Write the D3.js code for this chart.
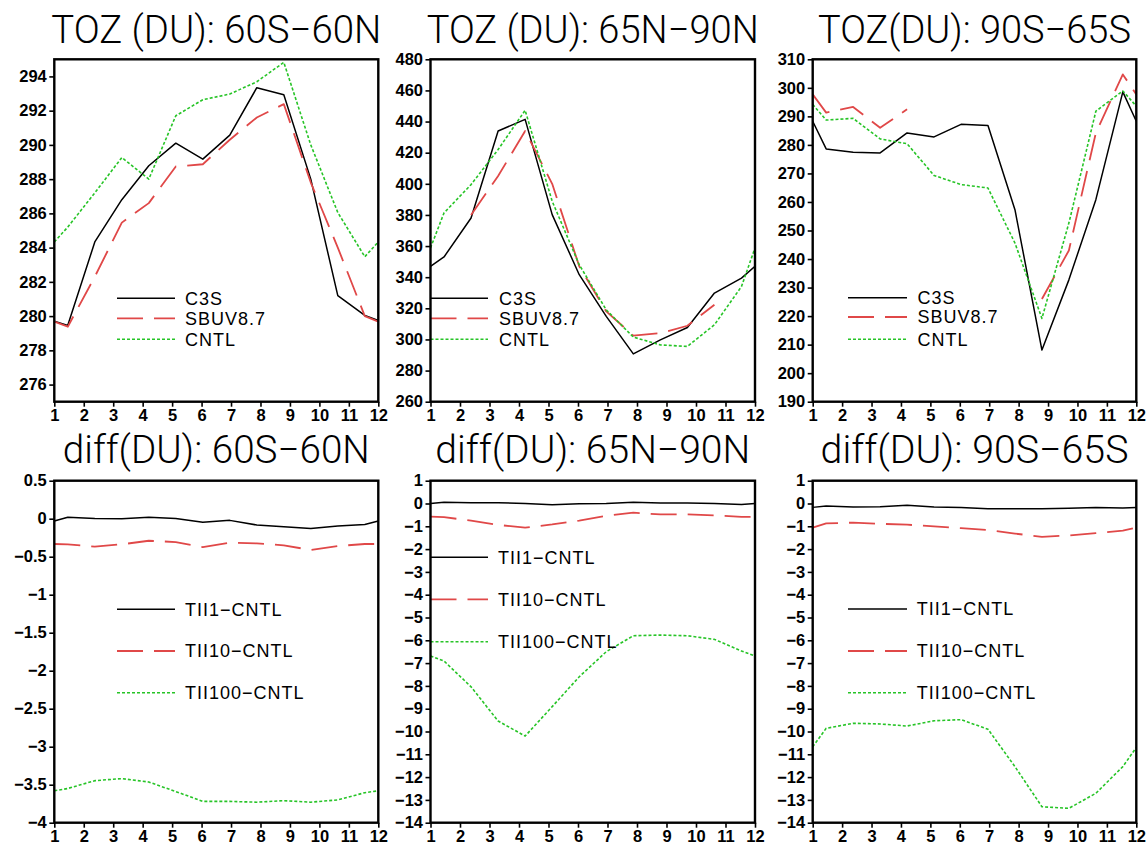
<!DOCTYPE html>
<html>
<head>
<meta charset="utf-8">
<script src="https://cdn.jsdelivr.net/npm/d3@7"></script>
<style>
  html, body { margin: 0; padding: 0; background: #fff; }
  svg { display: block; }
</style>
</head>
<body>
<svg id="chart" width="1146" height="844"></svg>
<script>
// ---------------- DATA ----------------
// x positions (month axis 1..12); first/last are the wrap-around edge values
const monthX = [1, 1.458, 2.375, 3.292, 4.208, 5.125, 6.042, 6.958, 7.875, 8.792, 9.708, 10.625, 11.542, 12];
const xTickValues = [1, 2, 3, 4, 5, 6, 7, 8, 9, 10, 11, 12];

const topLabels = ["C3S", "SBUV8.7", "CNTL"];
const diffLabels = ["TII1\u2212CNTL", "TII10\u2212CNTL", "TII100\u2212CNTL"];

const titles = [
  "TOZ (DU): 60S\u221260N", "TOZ (DU): 65N\u221290N", "TOZ(DU): 90S\u221265S",
  "diff(DU): 60S\u221260N", "diff(DU): 65N\u221290N", "diff(DU): 90S\u221265S"
];

// TOZ 60S-60N
const toz6060C3S  = [279.7, 279.46, 284.33, 286.8, 288.78, 290.1, 289.17, 290.57, 293.34, 292.93, 288.0, 281.2, 280.04, 279.75];
const toz6060SBUV = [279.68, 279.38, 282.3, 285.46, 286.6, 288.74, 288.87, 290.3, 291.6, 292.38, 287.8, 284.0, 280.0, 279.68];
const toz6060CNTL = [284.33, 285.2, 287.2, 289.26, 288.0, 291.7, 292.64, 292.97, 293.69, 294.82, 290.0, 286.05, 283.47, 284.33];
// TOZ 65N-90N
const toz6590C3S  = [347, 353, 378, 433.9, 441.4, 380.2, 341.6, 314.8, 290.7, 299.7, 307.7, 329.8, 339.4, 347];
const toz6590SBUV = [null, null, 380, 405, 433.9, 400, 347, 318, 302.5, 304, 308.8, 322.3, null, null];
const toz6590CNTL = [358.8, 381.3, 399.5, 422, 447.2, 388.8, 348, 319, 301.5, 296.5, 295.5, 309.4, 334, 358.8];
// TOZ 90S-65S
const toz9065C3S  = [288.3, 278.6, 277.4, 277.2, 284.2, 282.8, 287.2, 286.8, 257.3, 208.1, 232.7, 260.8, 298.6, 288.3];
const toz9065SBUV = [297.7, 291.3, 293.3, 286, 292.5, null, null, null, null, 226, 243, 284.2, 304.7, 297.7];
const toz9065CNTL = [294.2, 288.7, 289.3, 282.1, 280.4, 269.3, 266.1, 264.9, 245.6, 219.2, 252.6, 291.8, 298.9, 293.6];
// diff 60S-60N
const diff6060T1   = [-0.03, 0.018, 0.004, 0.0, 0.018, 0.004, -0.048, -0.022, -0.083, -0.105, -0.13, -0.096, -0.075, -0.03];
const diff6060T10  = [-0.333, -0.337, -0.368, -0.337, -0.29, -0.307, -0.373, -0.316, -0.325, -0.35, -0.412, -0.36, -0.333, -0.333];
const diff6060T100 = [-3.58, -3.55, -3.447, -3.42, -3.465, -3.59, -3.72, -3.72, -3.73, -3.71, -3.73, -3.70, -3.605, -3.58];
// diff 65N-90N
const diff6590T1   = [0, 0.06, 0.035, 0.035, 0, -0.05, -0.01, 0, 0.05, 0.02, 0.02, 0, -0.04, 0];
const diff6590T10  = [-0.58, -0.6, -0.75, -0.94, -1.06, -0.92, -0.75, -0.54, -0.40, -0.48, -0.48, -0.52, -0.59, -0.58];
const diff6590T100 = [-6.69, -6.91, -8.04, -9.54, -10.2, -8.91, -7.6, -6.5, -5.8, -5.77, -5.8, -5.96, -6.47, -6.69];
// diff 90S-65S
const diff9065T1   = [-0.17, -0.11, -0.155, -0.14, -0.08, -0.155, -0.18, -0.23, -0.23, -0.23, -0.21, -0.18, -0.2, -0.17];
const diff9065T10  = [-1.06, -0.87, -0.84, -0.89, -0.93, -1.0, -1.08, -1.16, -1.32, -1.46, -1.4, -1.3, -1.19, -1.06];
const diff9065T100 = [-10.67, -9.86, -9.64, -9.67, -9.76, -9.53, -9.48, -9.9, -11.54, -13.3, -13.37, -12.71, -11.54, -10.7];

// y axis tick values
const yTicks6060 = [276, 278, 280, 282, 284, 286, 288, 290, 292, 294];
const yTicks6590 = [260, 280, 300, 320, 340, 360, 380, 400, 420, 440, 460, 480];
const yTicks9065 = [190, 200, 210, 220, 230, 240, 250, 260, 270, 280, 290, 300, 310];
const yTicksD6060 = [-4, -3.5, -3, -2.5, -2, -1.5, -1, -0.5, 0, 0.5];
const yTicksD14 = [-14, -13, -12, -11, -10, -9, -8, -7, -6, -5, -4, -3, -2, -1, 0, 1];

// ---------------- LAYOUT / STYLE ----------------
const cols = [[54.3, 378.3], [430.5, 755], [812.7, 1136.3]];
const rows = [[59.3, 401.7], [480.7, 822.7]];
const titleBase = [42.7, 463];
const titleWidths = [330, 332, 313, 307, 315, 308];

const styles = [
  { color: "#000000", width: 1.5, dash: null },
  { color: "#e04848", width: 1.8, dash: "26,11" },
  { color: "#27c427", width: 1.6, dash: "3,2" }
];

const panels = [
  { series: [toz6060C3S, toz6060SBUV, toz6060CNTL], domain: [275, 295], ticks: yTicks6060, labels: topLabels,
    legend: { x0: 117, x1: 175, tx: 185, ys: [298.3, 318.3, 339.3] } },
  { series: [toz6590C3S, toz6590SBUV, toz6590CNTL], domain: [260, 480], ticks: yTicks6590, labels: topLabels,
    legend: { x0: 430.5, x1: 488, tx: 499, ys: [298.3, 318.3, 339.3] } },
  { series: [toz9065C3S, toz9065SBUV, toz9065CNTL], domain: [190, 310], ticks: yTicks9065, labels: topLabels,
    legend: { x0: 848, x1: 907, tx: 917.5, ys: [297.7, 317, 339.3] } },
  { series: [diff6060T1, diff6060T10, diff6060T100], domain: [-4, 0.5], ticks: yTicksD6060, labels: diffLabels,
    legend: { x0: 117, x1: 175, tx: 185, ys: [609.3, 651, 692.7] } },
  { series: [diff6590T1, diff6590T10, diff6590T100], domain: [-14, 1], ticks: yTicksD14, labels: diffLabels,
    legend: { x0: 430.5, x1: 488, tx: 498, ys: [557.3, 599.3, 641.7] } },
  { series: [diff9065T1, diff9065T10, diff9065T100], domain: [-14, 1], ticks: yTicksD14, labels: diffLabels,
    legend: { x0: 848, x1: 907, tx: 916.7, ys: [609, 651, 692.7] } }
];

// ---------------- DRAW ----------------
const svg = d3.select("#chart");
svg.append("rect").attr("width", 1146).attr("height", 844).attr("fill", "#fff");

const tickFont = "'Liberation Sans', Arial, sans-serif";
const fmt = d3.format("~g");

panels.forEach((p, idx) => {
  const col = cols[idx % 3], row = rows[Math.floor(idx / 3)];
  const x = d3.scaleLinear().domain([1, 12]).range(col);
  const y = d3.scaleLinear().domain(p.domain).range([row[1], row[0]]);
  const g = svg.append("g");

  // title (scaled horizontally to the reference width)
  const tg = g.append("g");
  const tt = tg.append("text")
    .attr("x", 0).attr("y", 0)
    .attr("text-anchor", "middle")
    .attr("font-family", "Roboto, 'DejaVu Sans', sans-serif")
    .attr("font-weight", 300)
    .attr("font-size", 39)
    .attr("fill", "#000")
    .text(titles[idx]);
  const natural = tt.node().getComputedTextLength();
  const sx = titleWidths[idx] / natural;
  tg.attr("transform", `translate(${(col[0] + col[1]) / 2},${titleBase[Math.floor(idx / 3)]}) scale(${sx},1)`);

  // data lines
  const clipId = "clip" + idx;
  svg.append("clipPath").attr("id", clipId).append("rect")
    .attr("x", col[0]).attr("y", row[0]).attr("width", col[1] - col[0]).attr("height", row[1] - row[0]);

  p.series.forEach((vals, si) => {
    const st = styles[si];
    const line = d3.line()
      .defined(d => d[1] !== null)
      .x(d => x(d[0]))
      .y(d => y(d[1]));
    const pts = monthX.map((mx, i) => [mx, vals[i]]);
    g.append("path")
      .attr("d", line(pts))
      .attr("clip-path", `url(#${clipId})`)
      .attr("fill", "none")
      .attr("stroke", st.color)
      .attr("stroke-width", st.width)
      .attr("stroke-dasharray", st.dash)
      .attr("stroke-linejoin", "round");
  });

  // legend
  p.labels.forEach((lab, si) => {
    const st = styles[si];
    const ly = p.legend.ys[si];
    g.append("line")
      .attr("x1", p.legend.x0).attr("x2", p.legend.x1)
      .attr("y1", ly).attr("y2", ly)
      .attr("stroke", st.color)
      .attr("stroke-width", st.width)
      .attr("stroke-dasharray", st.dash);
    g.append("text")
      .attr("x", p.legend.tx).attr("y", ly + 6.3)
      .attr("font-family", "'Liberation Sans', Arial, sans-serif")
      .attr("font-size", 18)
      .attr("letter-spacing", 1)
      .attr("fill", "#000")
      .text(lab);
  });

  // axes
  const xAxis = d3.axisBottom(x).tickValues(xTickValues).tickSize(5).tickPadding(3).tickFormat(d3.format("d"));
  const yAxis = d3.axisLeft(y).tickValues(p.ticks).tickSize(5).tickPadding(2.5).tickFormat(fmt);

  const gx = g.append("g").attr("transform", `translate(0,${row[1]})`).call(xAxis);
  const gy = g.append("g").attr("transform", `translate(${col[0]},0)`).call(yAxis);
  [gx, gy].forEach(a => {
    a.attr("font-size", null).attr("font-family", null);
    a.select(".domain").remove();
    a.selectAll(".tick line").attr("stroke", "#000").attr("stroke-width", 1.6);
    a.selectAll(".tick text")
      .attr("fill", "#000")
      .attr("font-family", tickFont)
      .attr("font-weight", "bold")
      .attr("font-size", 16.5);
  });

  // frame
  g.append("rect")
    .attr("x", col[0]).attr("y", row[0])
    .attr("width", col[1] - col[0]).attr("height", row[1] - row[0])
    .attr("fill", "none")
    .attr("stroke", "#000")
    .attr("stroke-width", 2.4);
});
</script>
</body>
</html>
